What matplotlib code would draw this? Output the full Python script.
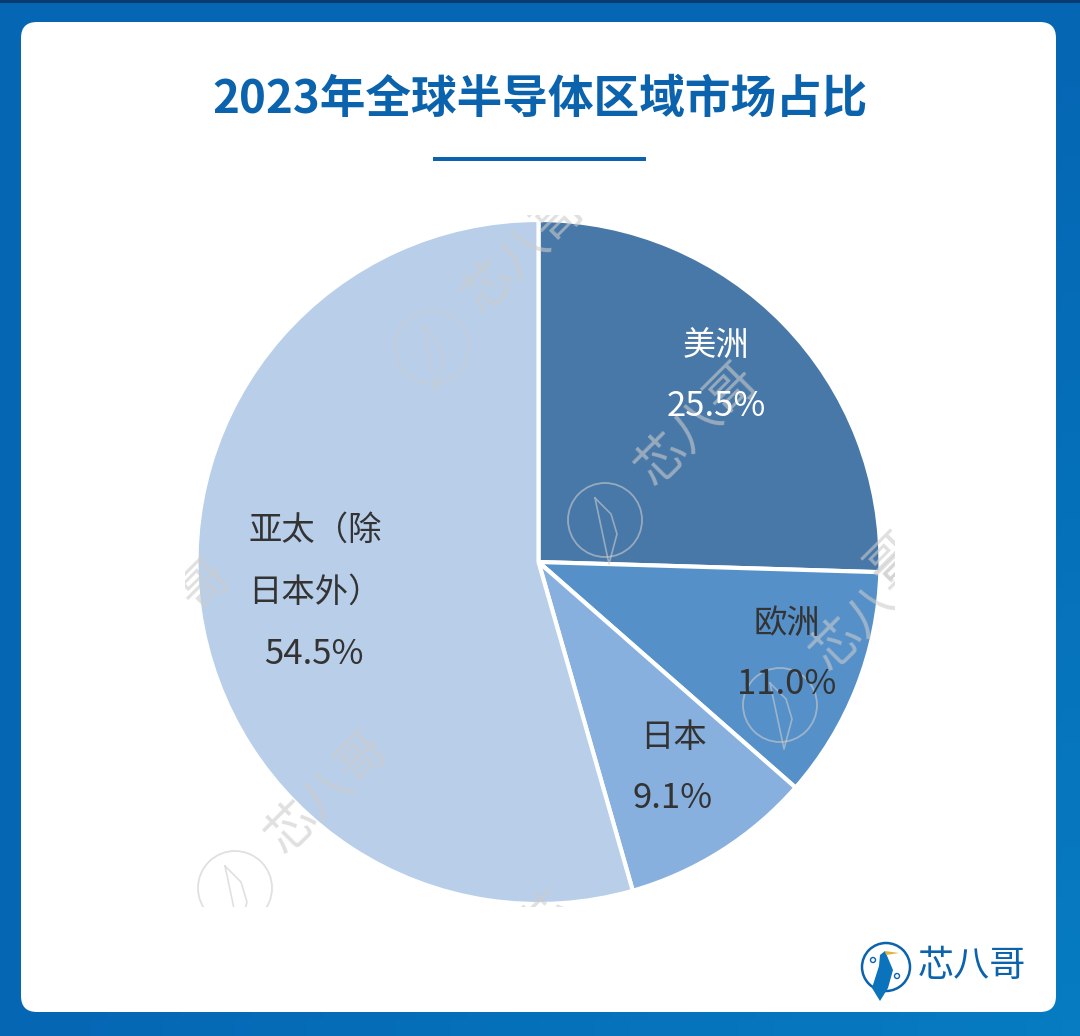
import matplotlib
matplotlib.use("Agg")
import matplotlib.pyplot as plt
import numpy as np
from matplotlib.patches import FancyBboxPatch, Circle, Rectangle, Polygon

plt.rcParams['font.family'] = ['Noto Sans CJK SC', 'DejaVu Sans']

regions = ['美洲', '欧洲', '日本', '亚太(除日本外)']
shares = [25.5, 11.0, 9.1, 54.5]
colors = ['#4878A8', '#5590C8', '#88B0DE', '#B8CEE9']
title = '2023年全球半导体区域市场占比'
W, H = 1080, 1036
fig = plt.figure(figsize=(W/100, H/100), dpi=100)

bg = fig.add_axes([0, 0, 1, 1])
bg.set_xlim(0, W); bg.set_ylim(H, 0); bg.axis('off')
yy, xx = np.mgrid[0:1:60j, 0:1:60j]
grad = np.clip((xx + yy - 1.0), 0, 1)
c0 = np.array([0x05, 0x66, 0xB4]) / 255
c1 = np.array([0x07, 0x7C, 0xC2]) / 255
img = c0[None, None, :] * (1 - grad[..., None]) + c1[None, None, :] * grad[..., None]
bg.imshow(img, extent=[0, W, H, 0], aspect='auto', zorder=0)
bg.set_xlim(0, W); bg.set_ylim(H, 0)
bg.add_patch(Rectangle((0, 0), W, 3, color='#0A3A72', lw=0, zorder=1))
bg.add_patch(FancyBboxPatch((37, 38), 1003, 958, boxstyle='round,pad=16,rounding_size=16',
                            fc='white', ec='none', zorder=2))
bg.text(540, 100, title, color='#0B63AE', fontsize=32.9, fontweight='bold', ha='center', va='center', zorder=3)
bg.add_patch(Rectangle((433, 157), 213, 4, color='#0B63AE', lw=0, zorder=3))

pie_ax = fig.add_axes([196.5/W, (H-904)/H, 684/W, 684/H])
pie_ax.pie(shares, colors=colors, startangle=90, counterclock=False, radius=1,
           wedgeprops=dict(edgecolor='white', linewidth=3))
pie_ax.set_xlim(-1, 1); pie_ax.set_ylim(-1, 1); pie_ax.set_aspect('auto')
pie_ax.patch.set_alpha(0)

fg = fig.add_axes([0, 0, 1, 1])
fg.set_xlim(0, W); fg.set_ylim(H, 0); fg.axis('off'); fg.patch.set_alpha(0)

# watermarks, clipped to the picture box that holds the chart
clip = Rectangle((185, 215), 710, 692, transform=fg.transData)
wm_color = (0.80, 0.80, 0.80, 0.6)
def wm_text(x, y, s):
    t = fg.text(x, y, s, color=wm_color, fontsize=36, rotation=45,
                ha='center', va='center', zorder=4, clip_on=True)
    t.set_clip_path(clip)
def watermark(cx, cy):
    c = Circle((cx, cy), 37, fc='none', ec=wm_color, lw=1.3, zorder=4)
    fg.add_patch(c); c.set_clip_path(clip)
    g = fg.plot([cx-10, cx+6, cx+12, cx+4, cx-10], [cy-22, cy-6, cy+14, cy+44, cy-22], color=wm_color, lw=1.2, zorder=4)[0]
    g.set_clip_path(clip)
    wm_text(cx + 92, cy - 95, '芯八哥')
for cx, cy in [(432, 347), (605, 520), (780, 705), (235, 888)]:
    watermark(cx, cy)
wm_text(205, 585, '哥')
wm_text(548, 918, '芯')
wm_text(892, 560, '哥')

# labels
lab = dict(fontsize=24, ha='center', va='center', zorder=5)
num = dict(fontsize=25, ha='center', va='center', zorder=5)
fg.text(716, 345, '美洲', color='white', fontweight='medium', **lab)
fg.text(716, 406, f'{shares[0]}%', color='white', **num)
fg.text(787, 623, '欧洲', color='#333333', fontweight='medium', **lab)
fg.text(787, 684, f'{shares[1]}%', color='#333333', **num)
fg.text(673, 738, '日本', color='#333333', fontweight='medium', **lab)
fg.text(673, 799, f'{shares[2]}%', color='#333333', **num)
fg.text(315, 530, '亚太（除', color='#333333', fontweight='medium', **lab)
fg.text(315, 592, '日本外）', color='#333333', fontweight='medium', **lab)
fg.text(314, 654, f'{shares[3]}%', color='#333333', **num)

# brand mark
fg.add_patch(Circle((886, 967), 24, fc='none', ec='#0B63AE', lw=1.8, zorder=5))
fg.add_patch(Polygon([[880, 1001], [872, 988], [879, 966], [880, 955], [885, 951], [893, 970], [888, 988]],
                     fc='#0B72BC', ec='none', zorder=6))
fg.add_patch(Polygon([[885, 951], [899, 953], [886, 955]], fc='#E2B33C', ec='none', zorder=6))
for nx, ny in [(873, 960), (897, 976)]:
    fg.add_patch(Circle((nx, ny), 2.5, fc='white', ec='#0B63AE', lw=1, zorder=7))
fg.text(972, 966, '芯八哥', color='#0B63AE', fontsize=26, fontweight='medium', ha='center', va='center', zorder=5)

fig.savefig('out.png', dpi=100)
